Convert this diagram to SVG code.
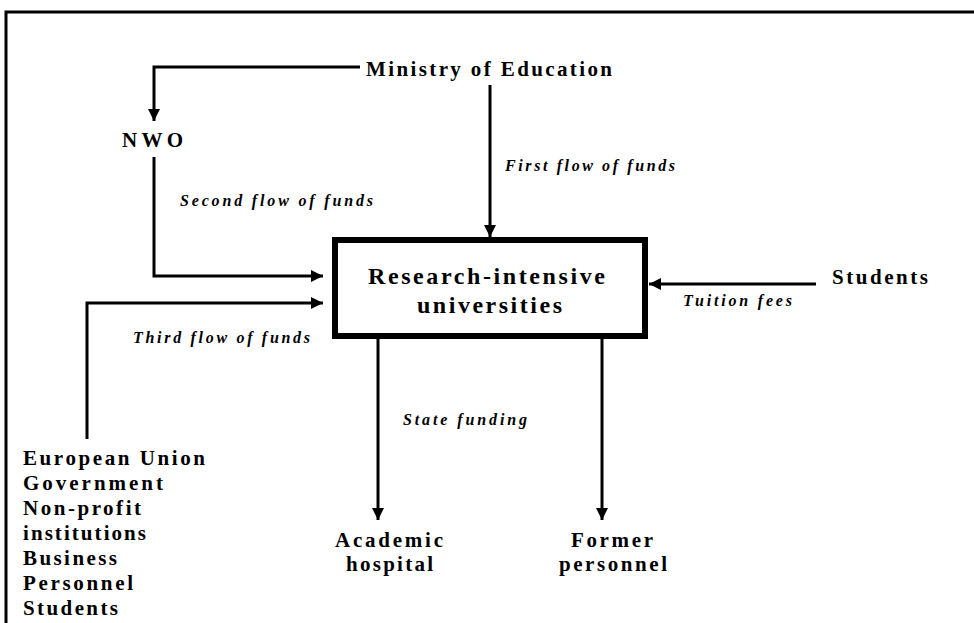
<svg xmlns="http://www.w3.org/2000/svg" width="974" height="623" viewBox="0 0 974 623">
<style>
.n{font-family:"Liberation Serif","Times New Roman",serif;font-weight:bold;font-size:21px;fill:#000}
.b{font-size:24px}
.l{font-family:"Liberation Serif","Times New Roman",serif;font-weight:bold;font-style:italic;font-size:16px;fill:#000}
.c{fill:none;stroke:#000;stroke-width:3}
</style>
<defs>
<marker id="ah" markerUnits="userSpaceOnUse" markerWidth="12" markerHeight="12" refX="12" refY="6" orient="auto">
<path d="M0,0 L12,6 L0,12 Z" fill="#000"/>
</marker>
</defs>
<rect width="974" height="623" fill="#fff"/>
<path d="M6,623 V12 H974" fill="none" stroke="#000" stroke-width="3"/>
<g id="connectors">
<path class="c" d="M360,67 H154 V121" marker-end="url(#ah)" stroke-width="2.5"/>
<path class="c" d="M490,85 V237" marker-end="url(#ah)"/>
<path class="c" d="M154,157 V276 H323" marker-end="url(#ah)"/>
<path class="c" d="M87,439 V303 H323" marker-end="url(#ah)"/>
<path class="c" d="M816,284 H649" marker-end="url(#ah)"/>
<path class="c" d="M378,339 V520" marker-end="url(#ah)"/>
<path class="c" d="M602,339 V520" marker-end="url(#ah)"/>
<text class="l" x="505" y="171" textLength="170" lengthAdjust="spacing">First flow of funds</text>
<text class="l" x="180" y="206" textLength="193" lengthAdjust="spacing">Second flow of funds</text>
<text class="l" x="133" y="343" textLength="177" lengthAdjust="spacing">Third flow of funds</text>
<text class="l" x="683" y="306" textLength="109" lengthAdjust="spacing">Tuition fees</text>
<text class="l" x="403" y="425" textLength="124" lengthAdjust="spacing">State funding</text>
</g>
<g id="ministry">
<text class="n" x="366" y="76" textLength="246" lengthAdjust="spacing">Ministry of Education</text>
</g>
<g id="nwo">
<text class="n" x="122" y="147" textLength="61" lengthAdjust="spacing">NWO</text>
</g>
<g id="universities">
<rect x="335" y="240" width="310" height="96" fill="none" stroke="#000" stroke-width="6"/>
<text class="n b" x="368" y="284" textLength="237" lengthAdjust="spacing">Research-intensive</text>
<text class="n b" x="417" y="313" textLength="145" lengthAdjust="spacing">universities</text>
</g>
<g id="students">
<text class="n" x="832" y="284" textLength="96" lengthAdjust="spacing">Students</text>
</g>
<g id="third-parties">
<text class="n" x="23" y="465" textLength="182" lengthAdjust="spacing">European Union</text>
<text class="n" x="23" y="490" textLength="140" lengthAdjust="spacing">Government</text>
<text class="n" x="23" y="515" textLength="118" lengthAdjust="spacing">Non-profit</text>
<text class="n" x="23" y="540" textLength="123" lengthAdjust="spacing">institutions</text>
<text class="n" x="23" y="565" textLength="94" lengthAdjust="spacing">Business</text>
<text class="n" x="23" y="590" textLength="110" lengthAdjust="spacing">Personnel</text>
<text class="n" x="23" y="615" textLength="95" lengthAdjust="spacing">Students</text>
</g>
<g id="hospital">
<text class="n" x="335" y="547" textLength="108" lengthAdjust="spacing">Academic</text>
<text class="n" x="346" y="571" textLength="87" lengthAdjust="spacing">hospital</text>
</g>
<g id="former">
<text class="n" x="571" y="547" textLength="82" lengthAdjust="spacing">Former</text>
<text class="n" x="559" y="571" textLength="108" lengthAdjust="spacing">personnel</text>
</g>
</svg>
